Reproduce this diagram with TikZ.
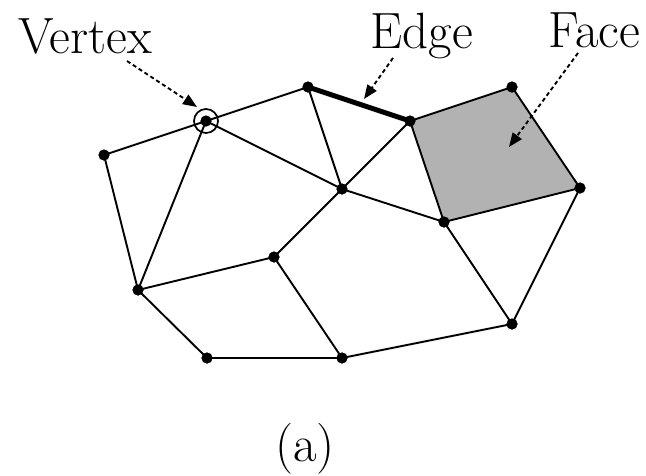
\documentclass[tikz,border=0pt]{standalone}
\usetikzlibrary{arrows.meta}
\begin{document}
\begin{tikzpicture}[x=1pt,y=-1pt,
  dot/.style={circle,fill=black,inner sep=0pt,minimum size=11pt},
  edge/.style={line width=1.9pt},
  thickedge/.style={line width=5pt},
  pointer/.style={line width=1.9pt,dash pattern=on 4pt off 3pt,-{Triangle[length=14pt,width=11pt]}},
  lbl/.style={font=\fontsize{51}{60}\selectfont,anchor=base,inner sep=0pt}]
\useasboundingbox (0,0) rectangle (646,475);
% face
\fill[black!30] (410,121) -- (512,87) -- (580,188) -- (444,222) -- cycle;
% vertices
\node[dot] (A) at (206,121) {};
\node[dot] (B) at (104,155) {};
\node[dot] (C) at (308,87) {};
\node[dot] (D) at (410,121) {};
\node[dot] (E) at (512,87) {};
\node[dot] (F) at (580,188) {};
\node[dot] (G) at (444,222) {};
\node[dot] (H) at (342,189) {};
\node[dot] (I) at (274,257) {};
\node[dot] (J) at (138,290) {};
\node[dot] (K) at (207,358) {};
\node[dot] (L) at (342,358) {};
\node[dot] (M) at (512,324) {};
% edges
\draw[edge] (A.center) -- (B.center);
\draw[edge] (A.center) -- (C.center);
\draw[edge] (A.center) -- (H.center);
\draw[edge] (A.center) -- (J.center);
\draw[edge] (B.center) -- (J.center);
\draw[thickedge] (C.center) -- (D.center);
\draw[edge] (C.center) -- (H.center);
\draw[edge] (D.center) -- (H.center);
\draw[edge] (D.center) -- (E.center);
\draw[edge] (E.center) -- (F.center);
\draw[edge] (F.center) -- (G.center);
\draw[edge] (G.center) -- (D.center);
\draw[edge] (H.center) -- (G.center);
\draw[edge] (H.center) -- (I.center);
\draw[edge] (I.center) -- (J.center);
\draw[edge] (I.center) -- (L.center);
\draw[edge] (J.center) -- (K.center);
\draw[edge] (K.center) -- (L.center);
\draw[edge] (L.center) -- (M.center);
\draw[edge] (M.center) -- (G.center);
\draw[edge] (M.center) -- (F.center);
% redraw dots on top
\foreach \n in {A,B,C,D,E,F,G,H,I,J,K,L,M} \fill (\n) circle (5.5pt);
% highlight circle
\node[circle,draw,line width=1.7pt,minimum size=24pt,inner sep=0pt] (Ac) at (A) {};
% labels
\node[lbl] (vtx) at (85,53) {Vertex};
\node[lbl] (edg) at (422,48) {Edge};
\node[lbl] (fac) at (594,47) {Face};
\node[lbl] (cap) at (305,461) {(a)};
% pointers
\coordinate (v0) at (127,61);
\coordinate (v1) at (197,107);
\coordinate (e0) at (393,58);
\coordinate (e1) at (364,99);
\coordinate (f0) at (578,53);
\coordinate (f1) at (509,147);
\draw[pointer] (v0) -- (v1);
\draw[pointer] (e0) -- (e1);
\draw[pointer] (f0) -- (f1);
\end{tikzpicture}
\end{document}
